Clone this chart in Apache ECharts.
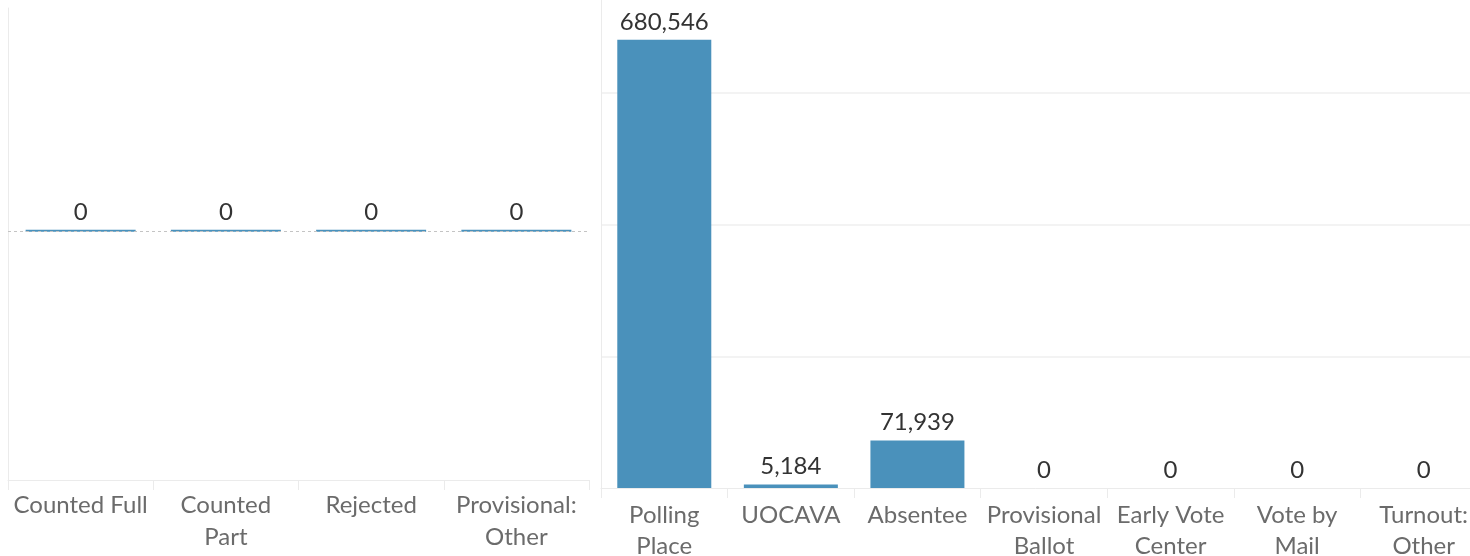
<!DOCTYPE html>
<html>
<head>
<meta charset="utf-8">
<script src="https://cdn.jsdelivr.net/npm/echarts@6/dist/echarts.min.js"></script>
<style>
html,body{margin:0;padding:0;background:#fff;}
#chart{width:1470px;height:556px;}
</style>
</head>
<body>
<div id="chart"></div>
<script>
const leftCategories = ["Counted Full", "Counted\nPart", "Rejected", "Provisional:\nOther"];
const leftValues = [0, 0, 0, 0];
const rightCategories = ["Polling\nPlace", "UOCAVA", "Absentee", "Provisional\nBallot", "Early Vote\nCenter", "Vote by\nMail", "Turnout:\nOther"];
const rightValues = [680546, 5184, 71939, 0, 0, 0, 0];

const BAR = '#4a91bb';
const AXIS = '#ebebeb';
const FONT = 'Lato';
const fmt = p => Number(p.value).toLocaleString('en-US');

const chart = echarts.init(document.getElementById('chart'), null, {renderer: 'canvas'});
chart.setOption({
  animation: false,
  backgroundColor: '#ffffff',
  grid: [
    {left: 8, top: 8, width: 581, height: 472, containLabel: false, outerBoundsMode: 'none'},
    {left: 601, top: 0, right: -17, height: 488, containLabel: false, outerBoundsMode: 'none'}
  ],
  xAxis: [
    {
      type: 'category', gridIndex: 0, data: leftCategories,
      axisLine: {show: true, onZero: false, lineStyle: {color: AXIS, width: 1}},
      axisTick: {show: true, alignWithLabel: false, length: 10, lineStyle: {color: AXIS}},
      axisLabel: {fontFamily: FONT, fontSize: 24, color: '#6b6b6b', lineHeight: 32, margin: 9, interval: 0}
    },
    {
      type: 'category', gridIndex: 1, data: rightCategories,
      axisLine: {show: true, onZero: false, lineStyle: {color: AXIS, width: 1}},
      axisTick: {show: true, alignWithLabel: false, length: 10, lineStyle: {color: AXIS}},
      axisLabel: {fontFamily: FONT, fontSize: 24, color: '#6b6b6b', lineHeight: 31, margin: 12, interval: 0}
    }
  ],
  yAxis: [
    {
      type: 'value', gridIndex: 0, min: -1.11, max: 1,
      axisLine: {show: true, lineStyle: {color: AXIS}},
      axisTick: {show: false}, axisLabel: {show: false}, splitLine: {show: false}
    },
    {
      type: 'value', gridIndex: 1, min: 0, max: 741000, interval: 200000,
      axisLine: {show: true, lineStyle: {color: AXIS}},
      axisTick: {show: false}, axisLabel: {show: false},
      splitLine: {show: true, showMinLine: false, showMaxLine: false, lineStyle: {color: '#efefef', width: 1.5}}
    }
  ],
  series: [
    {
      type: 'bar', xAxisIndex: 0, yAxisIndex: 0, data: leftValues,
      barWidth: 110, barMinHeight: 2,
      itemStyle: {color: BAR},
      label: {show: true, position: 'top', distance: 5, formatter: fmt, fontFamily: FONT, fontSize: 24, color: '#333333'},
      markLine: {
        silent: true, symbol: 'none', label: {show: false},
        lineStyle: {color: '#c4c4c4', type: [3, 3], width: 1},
        data: [{yAxis: 0}]
      }
    },
    {
      type: 'bar', xAxisIndex: 1, yAxisIndex: 1, data: rightValues,
      barWidth: 94,
      itemStyle: {color: BAR},
      label: {show: true, position: 'top', distance: 6, formatter: fmt, fontFamily: FONT, fontSize: 24, color: '#333333'}
    }
  ]
});
</script>
</body>
</html>
